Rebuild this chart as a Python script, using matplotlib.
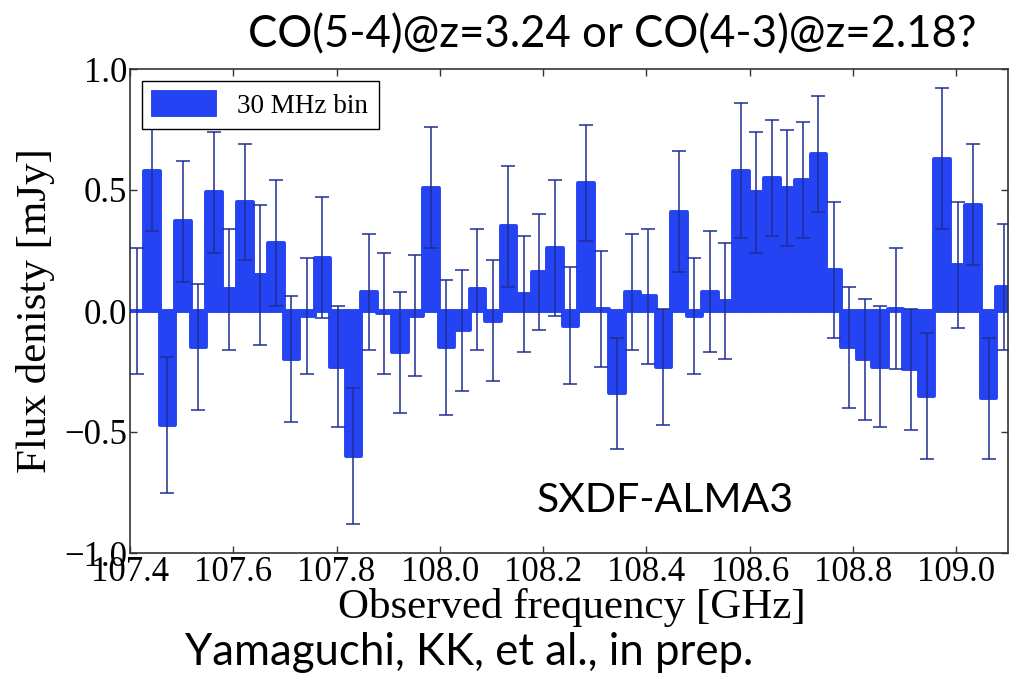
import matplotlib
matplotlib.use('Agg')
import matplotlib.pyplot as plt
import numpy as np

# 30 MHz binned spectrum
bin_start = 107.4126   # GHz, centre of first bin
bin_width = 0.03       # GHz

flux = [0.00, 0.58, -0.47, 0.37, -0.15, 0.49, 0.09, 0.45, 0.15, 0.28,
        -0.20, -0.02, 0.22, -0.23, -0.60, 0.08, -0.01, -0.17, -0.02, 0.51,
        -0.15, -0.08, 0.09, -0.04, 0.35, 0.07, 0.16, 0.26, -0.06, 0.53,
        0.01, -0.34, 0.08, 0.06, -0.23, 0.41, -0.02, 0.08, 0.04, 0.58,
        0.49, 0.55, 0.51, 0.54, 0.65, 0.17, -0.15, -0.20, -0.23, 0.01,
        -0.24, -0.35, 0.63, 0.19, 0.44, -0.36, 0.10]
err = [0.26, 0.25, 0.28, 0.25, 0.26, 0.25, 0.25, 0.24, 0.29, 0.26,
       0.26, 0.24, 0.25, 0.25, 0.28, 0.24, 0.25, 0.25, 0.25, 0.25,
       0.28, 0.25, 0.25, 0.25, 0.25, 0.24, 0.24, 0.28, 0.24, 0.24,
       0.24, 0.23, 0.24, 0.28, 0.24, 0.25, 0.24, 0.25, 0.24, 0.28,
       0.25, 0.24, 0.24, 0.24, 0.24, 0.28, 0.25, 0.25, 0.25, 0.25,
       0.25, 0.26, 0.29, 0.26, 0.25, 0.25, 0.26]
freq = bin_start + bin_width * np.arange(len(flux))

xticks = [107.4, 107.6, 107.8, 108.0, 108.2, 108.4, 108.6, 108.8, 109.0]
yticks = [-1.0, -0.5, 0.0, 0.5, 1.0]

serif = 'Liberation Serif'
sans = 'Lato'
blue = '#2443f3'

fig = plt.figure(figsize=(10.09, 6.74), dpi=100)
ax = fig.add_axes([130 / 1009, 1 - 553 / 674, 878 / 1009, 484 / 674])

ax.bar(freq, flux, width=bin_width, color=blue, edgecolor=blue,
       linewidth=2.8, joinstyle='round', label='30 MHz bin', zorder=2)
ax.errorbar(freq, flux, yerr=err, fmt='none', ecolor='#1f2f95',
            elinewidth=1.1, capsize=5, capthick=1.1, zorder=3)

ax.set_xlim(107.4, 109.1)
ax.set_ylim(-1.0, 1.0)
ax.set_xticks(xticks)
ax.set_xticklabels(['%.1f' % t for t in xticks], family=serif, fontsize=25)
ax.set_yticks(yticks)
ax.set_yticklabels(['%.1f' % t if t >= 0 else '\u2212%.1f' % -t for t in yticks],
                   family=serif, fontsize=25)
ax.tick_params(direction='in', top=True, right=True, length=5, width=1,
               pad=2, color='#333333')
for s in ax.spines.values():
    s.set_linewidth(1.2)
    s.set_color('#333333')

ax.set_xlabel('Observed frequency [GHz]', family=serif, fontsize=31)
ax.set_ylabel('Flux denisty [mJy]', family=serif, fontsize=31)
ax.xaxis.set_label_coords(0.5 + 3 / 878, -0.072)
ax.yaxis.set_label_coords(-0.085, 0.5)

leg = ax.legend(loc='upper left', prop={'family': serif, 'size': 19.5},
                fancybox=False, framealpha=1, edgecolor='black',
                handlelength=2.3, handleheight=0.9, borderaxespad=0.45)
leg.get_frame().set_linewidth(1.0)

fig.text(248 / 1009, 1 - 47 / 674, 'CO(5-4)@z=3.24 or CO(4-3)@z=2.18?',
         family=sans, fontsize=31.5, va='baseline', ha='left')
fig.text(537 / 1009, 1 - 512 / 674, 'SXDF-ALMA3',
         family=sans, fontsize=29.5, va='baseline', ha='left')
fig.text(185 / 1009, 1 - 665 / 674, 'Yamaguchi, KK, et al., in prep.',
         family=sans, fontsize=31.5, va='baseline', ha='left')

fig.savefig('out.png', dpi=100)
